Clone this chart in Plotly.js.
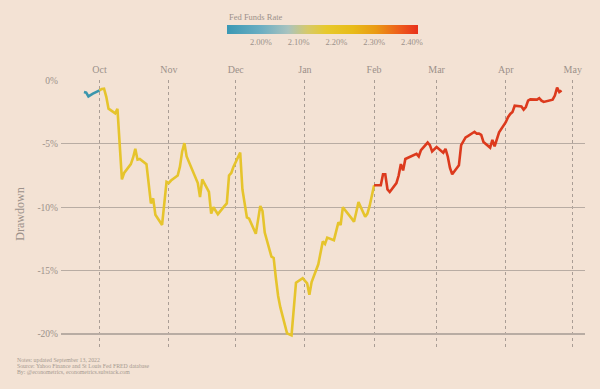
<!DOCTYPE html>
<html>
<head>
<meta charset="utf-8">
<script src="https://cdn.plot.ly/plotly-3.0.1.min.js"></script>
<style>
  html, body { margin: 0; padding: 0; background: #f3e2d4; }
  #chart { width: 600px; height: 389px; }
</style>
</head>
<body>
<div id="chart"></div>
<script>
// ---- Data ----
const dates = [
  '2018-09-24','2018-09-25','2018-09-26','2018-09-27','2018-09-28',
  '2018-10-01','2018-10-02','2018-10-03','2018-10-04','2018-10-05','2018-10-08','2018-10-09','2018-10-10','2018-10-11','2018-10-12',
  '2018-10-15','2018-10-16','2018-10-17','2018-10-18','2018-10-19','2018-10-22','2018-10-23','2018-10-24','2018-10-25','2018-10-26',
  '2018-10-29','2018-10-30','2018-10-31','2018-11-01','2018-11-02','2018-11-05','2018-11-06','2018-11-07','2018-11-08','2018-11-09',
  '2018-11-12','2018-11-13','2018-11-14','2018-11-15','2018-11-16','2018-11-19','2018-11-20','2018-11-21','2018-11-23',
  '2018-11-26','2018-11-27','2018-11-28','2018-11-29','2018-11-30','2018-12-03','2018-12-04','2018-12-06','2018-12-07',
  '2018-12-10','2018-12-11','2018-12-12','2018-12-13','2018-12-14','2018-12-17','2018-12-18','2018-12-19','2018-12-20','2018-12-21',
  '2018-12-24','2018-12-26','2018-12-27','2018-12-28','2018-12-31','2019-01-02','2019-01-03','2019-01-04',
  '2019-01-07','2019-01-08','2019-01-09','2019-01-10','2019-01-11','2019-01-14','2019-01-15','2019-01-16','2019-01-17','2019-01-18',
  '2019-01-22','2019-01-23','2019-01-24','2019-01-25','2019-01-28','2019-01-29','2019-01-30','2019-01-31',
  '2019-02-01','2019-02-04','2019-02-05','2019-02-06','2019-02-07','2019-02-08','2019-02-11','2019-02-12','2019-02-13','2019-02-14','2019-02-15',
  '2019-02-19','2019-02-20','2019-02-21','2019-02-22','2019-02-25','2019-02-26','2019-02-27','2019-02-28',
  '2019-03-01','2019-03-04','2019-03-05','2019-03-06','2019-03-07','2019-03-08','2019-03-11','2019-03-12','2019-03-13','2019-03-14','2019-03-15',
  '2019-03-18','2019-03-19','2019-03-20','2019-03-21','2019-03-22','2019-03-25','2019-03-26','2019-03-27','2019-03-28','2019-03-29',
  '2019-04-01','2019-04-02','2019-04-03','2019-04-04','2019-04-05','2019-04-08','2019-04-09','2019-04-10','2019-04-11','2019-04-12',
  '2019-04-15','2019-04-16','2019-04-17','2019-04-18','2019-04-22','2019-04-23','2019-04-24','2019-04-25','2019-04-26'
];
const drawdown = [
  -0.92,-0.97,-1.26,-1.18,-1.05,
  -0.79,-0.68,-0.65,-1.3,-2.23,-2.6,-2.25,-5.2,-7.8,-7.3,
  -6.6,-6.1,-5.4,-6.25,-6.2,-6.6,-8.3,-9.7,-9.3,-10.6,
  -11.4,-9.5,-8.0,-8.1,-7.9,-7.5,-6.8,-5.6,-4.95,-6.0,
  -7.2,-7.6,-8.1,-9.2,-7.8,-8.8,-10.5,-10.0,-10.55,
  -9.9,-9.7,-7.5,-7.3,-6.8,-5.7,-8.6,-10.8,-10.9,
  -12.1,-11.0,-9.9,-10.3,-12.0,-13.9,-14.0,-15.6,-17.0,-17.9,
  -19.95,-20.1,-18.0,-15.95,-15.6,-16.0,-16.9,-15.9,
  -14.5,-13.5,-12.7,-12.9,-12.4,-12.6,-11.9,-11.2,-11.4,-10.0,
  -10.9,-11.15,-10.4,-9.6,-10.75,-10.5,-9.9,-9.0,
  -8.27,-8.27,-7.4,-7.4,-8.6,-8.8,-8.1,-7.5,-6.6,-7.1,-6.2,
  -5.9,-5.8,-6.0,-5.5,-4.9,-5.1,-5.6,-5.4,
  -5.25,-5.7,-5.4,-6.0,-6.9,-7.4,-6.7,-5.1,-4.8,-4.5,-4.4,
  -4.05,-4.2,-4.2,-4.3,-4.85,-5.3,-4.7,-5.2,-4.6,-4.1,
  -3.3,-2.9,-2.65,-2.5,-2.0,-2.05,-2.3,-2.1,-1.6,-1.5,
  -1.52,-1.4,-1.6,-1.7,-1.52,-1.2,-0.57,-0.92,-0.8
];
// Fed funds rate regimes (start date of each colour segment, rate in %)
const regimeStarts = ['2018-09-24', '2018-10-01', '2019-02-01'];
const regimeRates  = [1.95, 2.20, 2.40];
const regimeColors = ['#3a96ad', '#e6c42c', '#dc3a1d'];

const yTickVals  = [0, -5, -10, -15, -20];
const yTickText  = ['0%', '-5%', '-10%', '-15%', '-20%'];
const cbTickVals = [2.00, 2.10, 2.20, 2.30, 2.40];
const cbTickText = ['2.00%', '2.10%', '2.20%', '2.30%', '2.40%'];

const notes = [
  'Notes: updated September 13, 2022',
  'Source: Yahoo Finance and St Louis Fed FRED database',
  'By: @econometrics, econometrics.substack.com'
];

// ---- Build traces ----
const FONT = 'Liberation Serif, DejaVu Serif, serif';
const GREY = '#9c918a';
const traces = [];
for (let r = 0; r < regimeStarts.length; r++) {
  const start = regimeStarts[r];
  const end = r + 1 < regimeStarts.length ? regimeStarts[r + 1] : '9999-12-31';
  const xs = [], ys = [];
  dates.forEach((d, i) => {
    if (d >= start && d <= end) { xs.push(d); ys.push(drawdown[i]); }
  });
  traces.push({
    type: 'scatter', mode: 'lines', x: xs, y: ys,
    line: { color: regimeColors[r], width: 2.6, shape: 'linear' },
    hoverinfo: 'skip', showlegend: false
  });
}

// colorbar carrier
traces.push({
  type: 'scatter', mode: 'markers',
  x: [dates[0]], y: [drawdown[0]],
  marker: {
    size: 1, opacity: 0,
    color: regimeRates, cmin: 1.91, cmax: 2.416,
    colorscale: [
      [0.00, '#3a98b4'],
      [0.18, '#6caec2'],
      [0.32, '#a9c3bf'],
      [0.42, '#d6c96a'],
      [0.52, '#e7c92c'],
      [0.66, '#e8bb18'],
      [0.78, '#ea9a14'],
      [0.90, '#ee5e1b'],
      [1.00, '#e8301c']
    ],
    showscale: true,
    colorbar: {
      orientation: 'h',
      xref: 'container', yref: 'container',
      x: 0.4332, xanchor: 'left',
      y: 0.9357, yanchor: 'top',
      len: 191, lenmode: 'pixels',
      thickness: 9, thicknessmode: 'pixels',
      outlinewidth: 0, xpad: 0, ypad: 0,
      tickvals: cbTickVals, ticktext: cbTickText,
      ticks: '', tickfont: { family: FONT, size: 8.5, color: GREY }
    }
  },
  hoverinfo: 'skip', showlegend: false
});

const annotations = notes.map((t, i) => ({
  text: t, xref: 'paper', yref: 'paper',
  x: -0.0872, y: -0.0448 - i * 0.0215,
  xanchor: 'left', yanchor: 'middle', showarrow: false,
  font: { family: FONT, size: 5.8, color: '#a5998f' }
}));
annotations.push({
  text: 'Fed Funds Rate', xref: 'paper', yref: 'paper',
  x: 0.3172, y: 1.235, xanchor: 'left', yanchor: 'middle', showarrow: false,
  font: { family: FONT, size: 8.5, color: GREY }
});

const layout = {
  width: 600, height: 389,
  margin: { l: 60.7, r: 15, t: 80, b: 41 },
  paper_bgcolor: '#f3e2d4', plot_bgcolor: '#f3e2d4',
  showlegend: false,
  xaxis: {
    type: 'date',
    range: ['2018-09-13 17:00', '2019-05-06 12:00'],
    side: 'top',
    tick0: '2018-10-01', dtick: 'M1', tickformat: '%b',
    showgrid: true, gridcolor: '#a99d95', gridwidth: 1, griddash: '3px,3px',
    zeroline: false, showline: false, ticks: '',
    ticklabelstandoff: 4,
    tickfont: { family: FONT, size: 10, color: GREY }
  },
  yaxis: {
    range: [-21.1, 0.03],
    tickvals: yTickVals, ticktext: yTickText,
    showgrid: true, gridcolor: '#b8aca3', gridwidth: 1.2,
    zeroline: false, showline: false, ticks: '',
    ticklabelstandoff: 2,
    tickfont: { family: FONT, size: 9.5, color: GREY },
    title: { text: 'Drawdown', font: { family: FONT, size: 12, color: GREY }, standoff: 10 }
  },
  annotations: annotations
};

Plotly.newPlot('chart', traces, layout, { displayModeBar: false, staticPlot: true });
</script>
</body>
</html>
